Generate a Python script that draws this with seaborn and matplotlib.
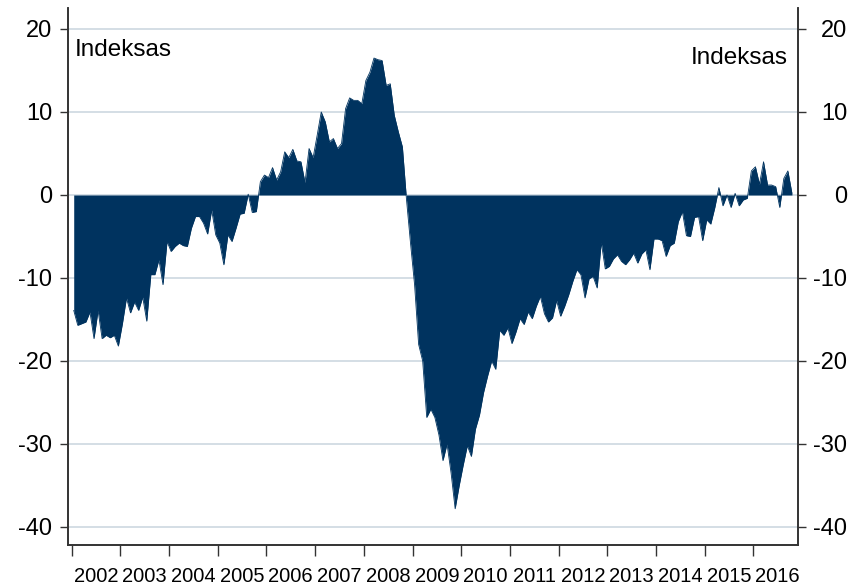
from matplotlib import pyplot as plt
import numpy as np
import pandas as pd
import seaborn as sns

sns.set_style('white')
plt.rcParams['font.family'] = ['Liberation Sans', 'DejaVu Sans']
plt.rcParams['axes.unicode_minus'] = False
plt.rcParams['text.color'] = 'black'
plt.rcParams['xtick.color'] = 'black'
plt.rcParams['ytick.color'] = 'black'

# monthly index values, Jan 2002 .. Oct 2016
v2002 = [-13.9, -15.7, -15.5, -15.3, -14.1, -17.3, -13.9, -17.3, -16.9, -17.2, -16.9, -18.2]
v2003 = [-15.5, -12.4, -14.2, -12.9, -13.9, -12.3, -15.2, -9.6, -9.6, -7.8, -10.8, -5.6]
v2004 = [-6.8, -6.2, -5.8, -6.1, -6.2, -4.0, -2.6, -2.6, -3.4, -4.7, -1.8, -4.8]
v2005 = [-5.8, -8.4, -4.8, -5.6, -4.0, -2.3, -2.2, 0.1, -2.1, -2.0, 1.6, 2.4]
v2006 = [2.1, 3.3, 1.8, 2.8, 5.2, 4.5, 5.5, 4.1, 4.0, 1.5, 5.6, 4.5]
v2007 = [7.2, 10.0, 8.8, 6.4, 6.8, 5.6, 6.2, 10.4, 11.7, 11.4, 11.4, 11.0]
v2008 = [13.8, 14.8, 16.5, 16.3, 16.2, 13.2, 13.4, 9.6, 7.6, 5.8, -0.5, -5.8]
v2009 = [-10.8, -18.0, -20.0, -26.8, -25.8, -26.8, -28.9, -32.0, -30.0, -33.5, -37.8, -35.0]
v2010 = [-32.5, -30.2, -31.5, -28.2, -26.5, -23.8, -21.8, -20.0, -21.0, -16.3, -16.9, -16.0]
v2011 = [-17.9, -16.5, -14.9, -15.6, -14.1, -14.9, -13.4, -12.2, -14.3, -15.3, -14.8, -12.7]
v2012 = [-14.6, -13.4, -12.0, -10.4, -9.0, -9.6, -12.4, -10.1, -9.8, -11.2, -5.7, -8.9]
v2013 = [-8.6, -7.7, -7.2, -8.0, -8.4, -7.8, -7.0, -8.2, -7.1, -6.6, -9.0, -5.3]
v2014 = [-5.3, -5.5, -7.4, -6.1, -5.8, -3.2, -2.0, -4.9, -5.0, -2.7, -2.6, -5.5]
v2015 = [-3.0, -3.5, -1.5, 0.9, -1.3, 0.0, -1.5, 0.2, -1.3, -0.6, -0.4, 2.9]
v2016 = [3.4, 1.3, 4.0, 1.2, 1.2, 1.0, -1.5, 2.0, 2.9, 0.2]

years = list(range(2002, 2017))
yticks = [20, 10, 0, -10, -20, -30, -40]
unit_label = 'Indeksas'

values = (v2002 + v2003 + v2004 + v2005 + v2006 + v2007 + v2008 + v2009
          + v2010 + v2011 + v2012 + v2013 + v2014 + v2015 + v2016)
df = pd.DataFrame({'t': 2002 + (np.arange(len(values)) + 0.5) / 12, 'v': values})

navy = '#00335f'
grid_c = '#cdd8e0'

fig = plt.figure(figsize=(8.52, 5.86), dpi=100)
ax = fig.add_axes([67.5 / 852, 41 / 586, 730 / 852, 537 / 586])

ax.fill_between(df['t'], 0, df['v'], color=navy, linewidth=0, zorder=3)
sns.lineplot(x='t', y='v', data=df, color=navy, linewidth=0.6, ax=ax, zorder=3)

ax.set_xlim(2001.914, 2016.906)
ax.set_ylim(-42.17, 22.53)
ax.set_yticks(yticks)
for y in yticks:
    ax.axhline(y, color=grid_c, linewidth=1.2, zorder=1)

ax.set_xticks(years)
ax.set_xticklabels([])
ax.set_xticks([y + 0.5 for y in years], minor=True)
ax.set_xticklabels([str(y) for y in years], minor=True)
ax.tick_params(axis='x', which='major', direction='out', length=8, width=1, color='#333333',
               bottom=True)
ax.tick_params(axis='x', which='minor', length=0, pad=15.5, labelsize=14.5)
ax.tick_params(axis='y', direction='out', length=6, width=1, color='#333333', left=True,
               pad=5, labelsize=17)
ax.set_xlabel('')
ax.set_ylabel('')

ax2 = ax.twinx()
ax2.set_ylim(ax.get_ylim())
ax2.set_yticks(yticks)
ax2.tick_params(axis='y', direction='out', length=6, width=1, color='#333333', right=True,
                pad=30, labelsize=17)
for lbl in ax2.get_yticklabels():
    lbl.set_ha('right')

for a in (ax, ax2):
    a.spines['top'].set_visible(False)
    for s in ('left', 'right', 'bottom'):
        a.spines[s].set_color('#333333')
        a.spines[s].set_linewidth(1.2)

ax.text(0.0103, 0.9115, unit_label, transform=ax.transAxes, ha='left', va='baseline',
        fontsize=17.5)
ax.text(0.987, 0.8957, unit_label, transform=ax.transAxes, ha='right', va='baseline',
        fontsize=17.5, zorder=5)

fig.savefig('out.png', dpi=100)
